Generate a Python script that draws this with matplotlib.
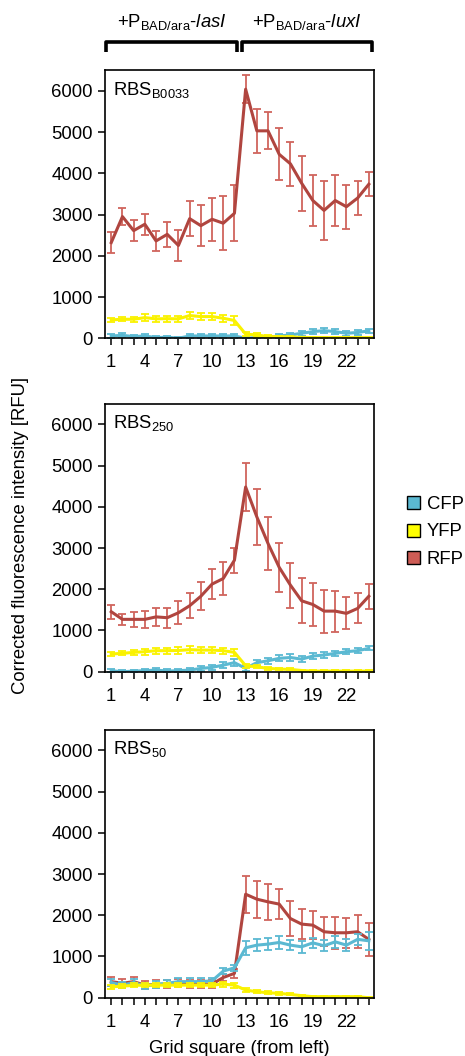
import numpy as np
import matplotlib
matplotlib.use("Agg")
import matplotlib.pyplot as plt
from matplotlib.patches import Patch

plt.rcParams['font.family'] = ['Liberation Sans', 'DejaVu Sans']
plt.rcParams['mathtext.fontset'] = 'custom'
plt.rcParams['mathtext.rm'] = 'Liberation Sans'
plt.rcParams['mathtext.it'] = 'Liberation Sans:italic'

# grid squares 1..24 (1-12 under lasI, 13-24 under luxI)
squares = np.arange(1, 25)
tick_labels = [1, 4, 7, 10, 13, 16, 19, 22]
panel_names = ['RBS$_{\\mathrm{B0033}}$', 'RBS$_{\\mathrm{250}}$', 'RBS$_{\\mathrm{50}}$']

# RBS B0033
rfp_b0033 = [2320, 2950, 2610, 2765, 2360, 2520, 2250, 2900, 2730, 2885, 2790, 3030,
             6040, 5030, 5030, 4460, 4230, 3760, 3340, 3100, 3340, 3190, 3400, 3735]
rfp_b0033_err = [250, 210, 260, 250, 240, 300, 370, 430, 490, 520, 650, 675,
                 340, 530, 445, 630, 530, 670, 620, 720, 620, 530, 410, 290]
yfp_b0033 = [445, 460, 460, 500, 470, 475, 470, 550, 525, 525, 485, 430,
             100, 80, 40, 40, 30, 20, 15, 15, 15, 15, 15, 15]
yfp_b0033_err = [50, 50, 60, 90, 70, 75, 70, 90, 90, 90, 90, 120,
                 50, 40, 30, 20, 20, 15, 15, 15, 15, 15, 15, 15]
cfp_b0033 = [55, 70, 40, 55, 15, 25, 0, 55, 55, 55, 55, 55,
             0, 15, 25, 55, 80, 120, 160, 185, 160, 120, 140, 180]
cfp_b0033_err = [40, 45, 40, 45, 40, 40, 30, 50, 50, 50, 50, 50,
                 30, 30, 40, 50, 55, 60, 60, 60, 60, 55, 55, 55]

# RBS 250
rfp_250 = [1455, 1270, 1270, 1270, 1330, 1310, 1430, 1600, 1830, 2125, 2260, 2705,
           4480, 3755, 3110, 2530, 2100, 1720, 1630, 1470, 1470, 1415, 1535, 1830]
rfp_250_err = [170, 135, 180, 200, 215, 240, 280, 300, 335, 360, 400, 305,
               585, 675, 635, 585, 545, 545, 510, 520, 495, 390, 365, 305]
yfp_250 = [430, 445, 470, 485, 510, 510, 515, 535, 525, 525, 510, 470,
           145, 120, 80, 65, 55, 30, 15, 15, 15, 15, 15, 15]
yfp_250_err = [50, 50, 60, 70, 70, 70, 75, 80, 75, 75, 70, 80,
               50, 40, 35, 30, 25, 20, 15, 15, 15, 15, 15, 15]
cfp_250 = [25, 0, 15, 25, 40, 15, 25, 40, 80, 105, 160, 220,
           80, 220, 265, 325, 345, 305, 380, 405, 445, 485, 510, 565]
cfp_250_err = [30, 30, 35, 40, 45, 40, 45, 50, 60, 70, 80, 80,
               70, 70, 75, 75, 75, 75, 70, 65, 60, 55, 55, 50]

# RBS 50
rfp_50 = [390, 350, 390, 305, 325, 325, 350, 330, 330, 330, 490, 590,
          2510, 2390, 2325, 2270, 1920, 1785, 1760, 1600, 1575, 1575, 1600, 1415]
rfp_50_err = [115, 110, 110, 100, 100, 100, 100, 100, 100, 100, 80, 100,
              450, 445, 435, 365, 415, 355, 345, 350, 385, 365, 395, 395]
yfp_50 = [265, 280, 300, 305, 305, 305, 305, 305, 305, 305, 330, 305,
          185, 145, 120, 105, 80, 50, 25, 25, 25, 25, 25, 0]
yfp_50_err = [50, 50, 50, 50, 50, 50, 50, 50, 50, 50, 60, 60,
              50, 40, 35, 30, 25, 20, 15, 15, 15, 15, 15, 15]
cfp_50 = [370, 305, 370, 280, 325, 350, 390, 390, 390, 410, 645, 725,
          1210, 1275, 1300, 1340, 1275, 1235, 1330, 1260, 1355, 1275, 1415, 1380]
cfp_50_err = [80, 80, 80, 80, 80, 80, 80, 80, 80, 80, 80, 80,
              170, 150, 140, 150, 130, 140, 120, 130, 140, 140, 140, 220]

panels = [
    (rfp_b0033, rfp_b0033_err, cfp_b0033, cfp_b0033_err, yfp_b0033, yfp_b0033_err),
    (rfp_250, rfp_250_err, cfp_250, cfp_250_err, yfp_250, yfp_250_err),
    (rfp_50, rfp_50_err, cfp_50, cfp_50_err, yfp_50, yfp_50_err),
]

rfp_line, rfp_bar = '#B0453F', '#D0645D'
cfp_line, cfp_bar = '#5BB9D2', '#5BB9D2'
yfp_line, yfp_bar = '#FAF200', '#FAF200'
fs = 13.3

fig = plt.figure(figsize=(4.65, 10.56), dpi=100)
bottoms = [0.6797, 0.3639, 0.0552]
axes = []
for i, (rfp, rfp_e, cfp, cfp_e, yfp, yfp_e) in enumerate(panels):
    ax = fig.add_axes([0.226, bottoms[i], 0.578, 0.2538])
    axes.append(ax)
    for y, e, lc, bc in [(rfp, rfp_e, rfp_line, rfp_bar),
                         (cfp, cfp_e, cfp_line, cfp_bar),
                         (yfp, yfp_e, yfp_line, yfp_bar)]:
        ax.errorbar(squares, y, yerr=e, fmt='none', ecolor=bc, elinewidth=1.3,
                    capsize=3.2, capthick=1.3)
        ax.plot(squares, y, color=lc, lw=2.2)
    ax.set_xlim(0.45, 24.45)
    ax.set_ylim(0, 6500)
    ax.set_yticks(range(0, 7000, 1000))
    ax.set_xticks(squares)
    ax.set_xticklabels([str(s) if s in tick_labels else '' for s in squares])
    ax.tick_params(direction='out', length=5, width=1.1, labelsize=fs)
    ax.tick_params(axis='x', pad=6.5)
    ax.tick_params(axis='y', pad=4)
    for sp in ax.spines.values():
        sp.set_linewidth(1.2)
    ax.text(0.03, 0.965, panel_names[i], transform=ax.transAxes, fontsize=fs,
            va='top', ha='left')

axes[2].set_xlabel('Grid square (from left)', fontsize=fs, labelpad=7)
fig.text(0.045, 1 - 535 / 1056, 'Corrected fluorescence intensity [RFU]',
         rotation=90, va='center', ha='center', fontsize=fs)

# brackets above top panel
top = axes[0]
for x0, x1, label in [(0.55, 12.2, '+P$_{\\mathrm{BAD/ara}}$-$\\it{lasI}$'),
                      (12.65, 24.3, '+P$_{\\mathrm{BAD/ara}}$-$\\it{luxI}$')]:
    top.plot([x0, x0, x1, x1], [1.068, 1.104, 1.104, 1.068], color='black', lw=2.6,
             transform=top.get_xaxis_transform(), clip_on=False,
             solid_capstyle='butt', solid_joinstyle='round')
    top.text((x0 + x1) / 2, 1.18, label, transform=top.get_xaxis_transform(),
             ha='center', va='center', fontsize=fs)

handles = [Patch(facecolor=cfp_line, edgecolor='black', label='CFP'),
           Patch(facecolor='#FFFF00', edgecolor='black', label='YFP'),
           Patch(facecolor='#CD5C55', edgecolor='black', label='RFP')]
fig.legend(handles=handles, loc='center left', bbox_to_anchor=(0.86, 1 - 532 / 1056),
           frameon=False, fontsize=fs, handlelength=0.7, handleheight=0.7,
           handletextpad=0.35, labelspacing=0.55, borderaxespad=0)

fig.savefig('out.png', dpi=100)
